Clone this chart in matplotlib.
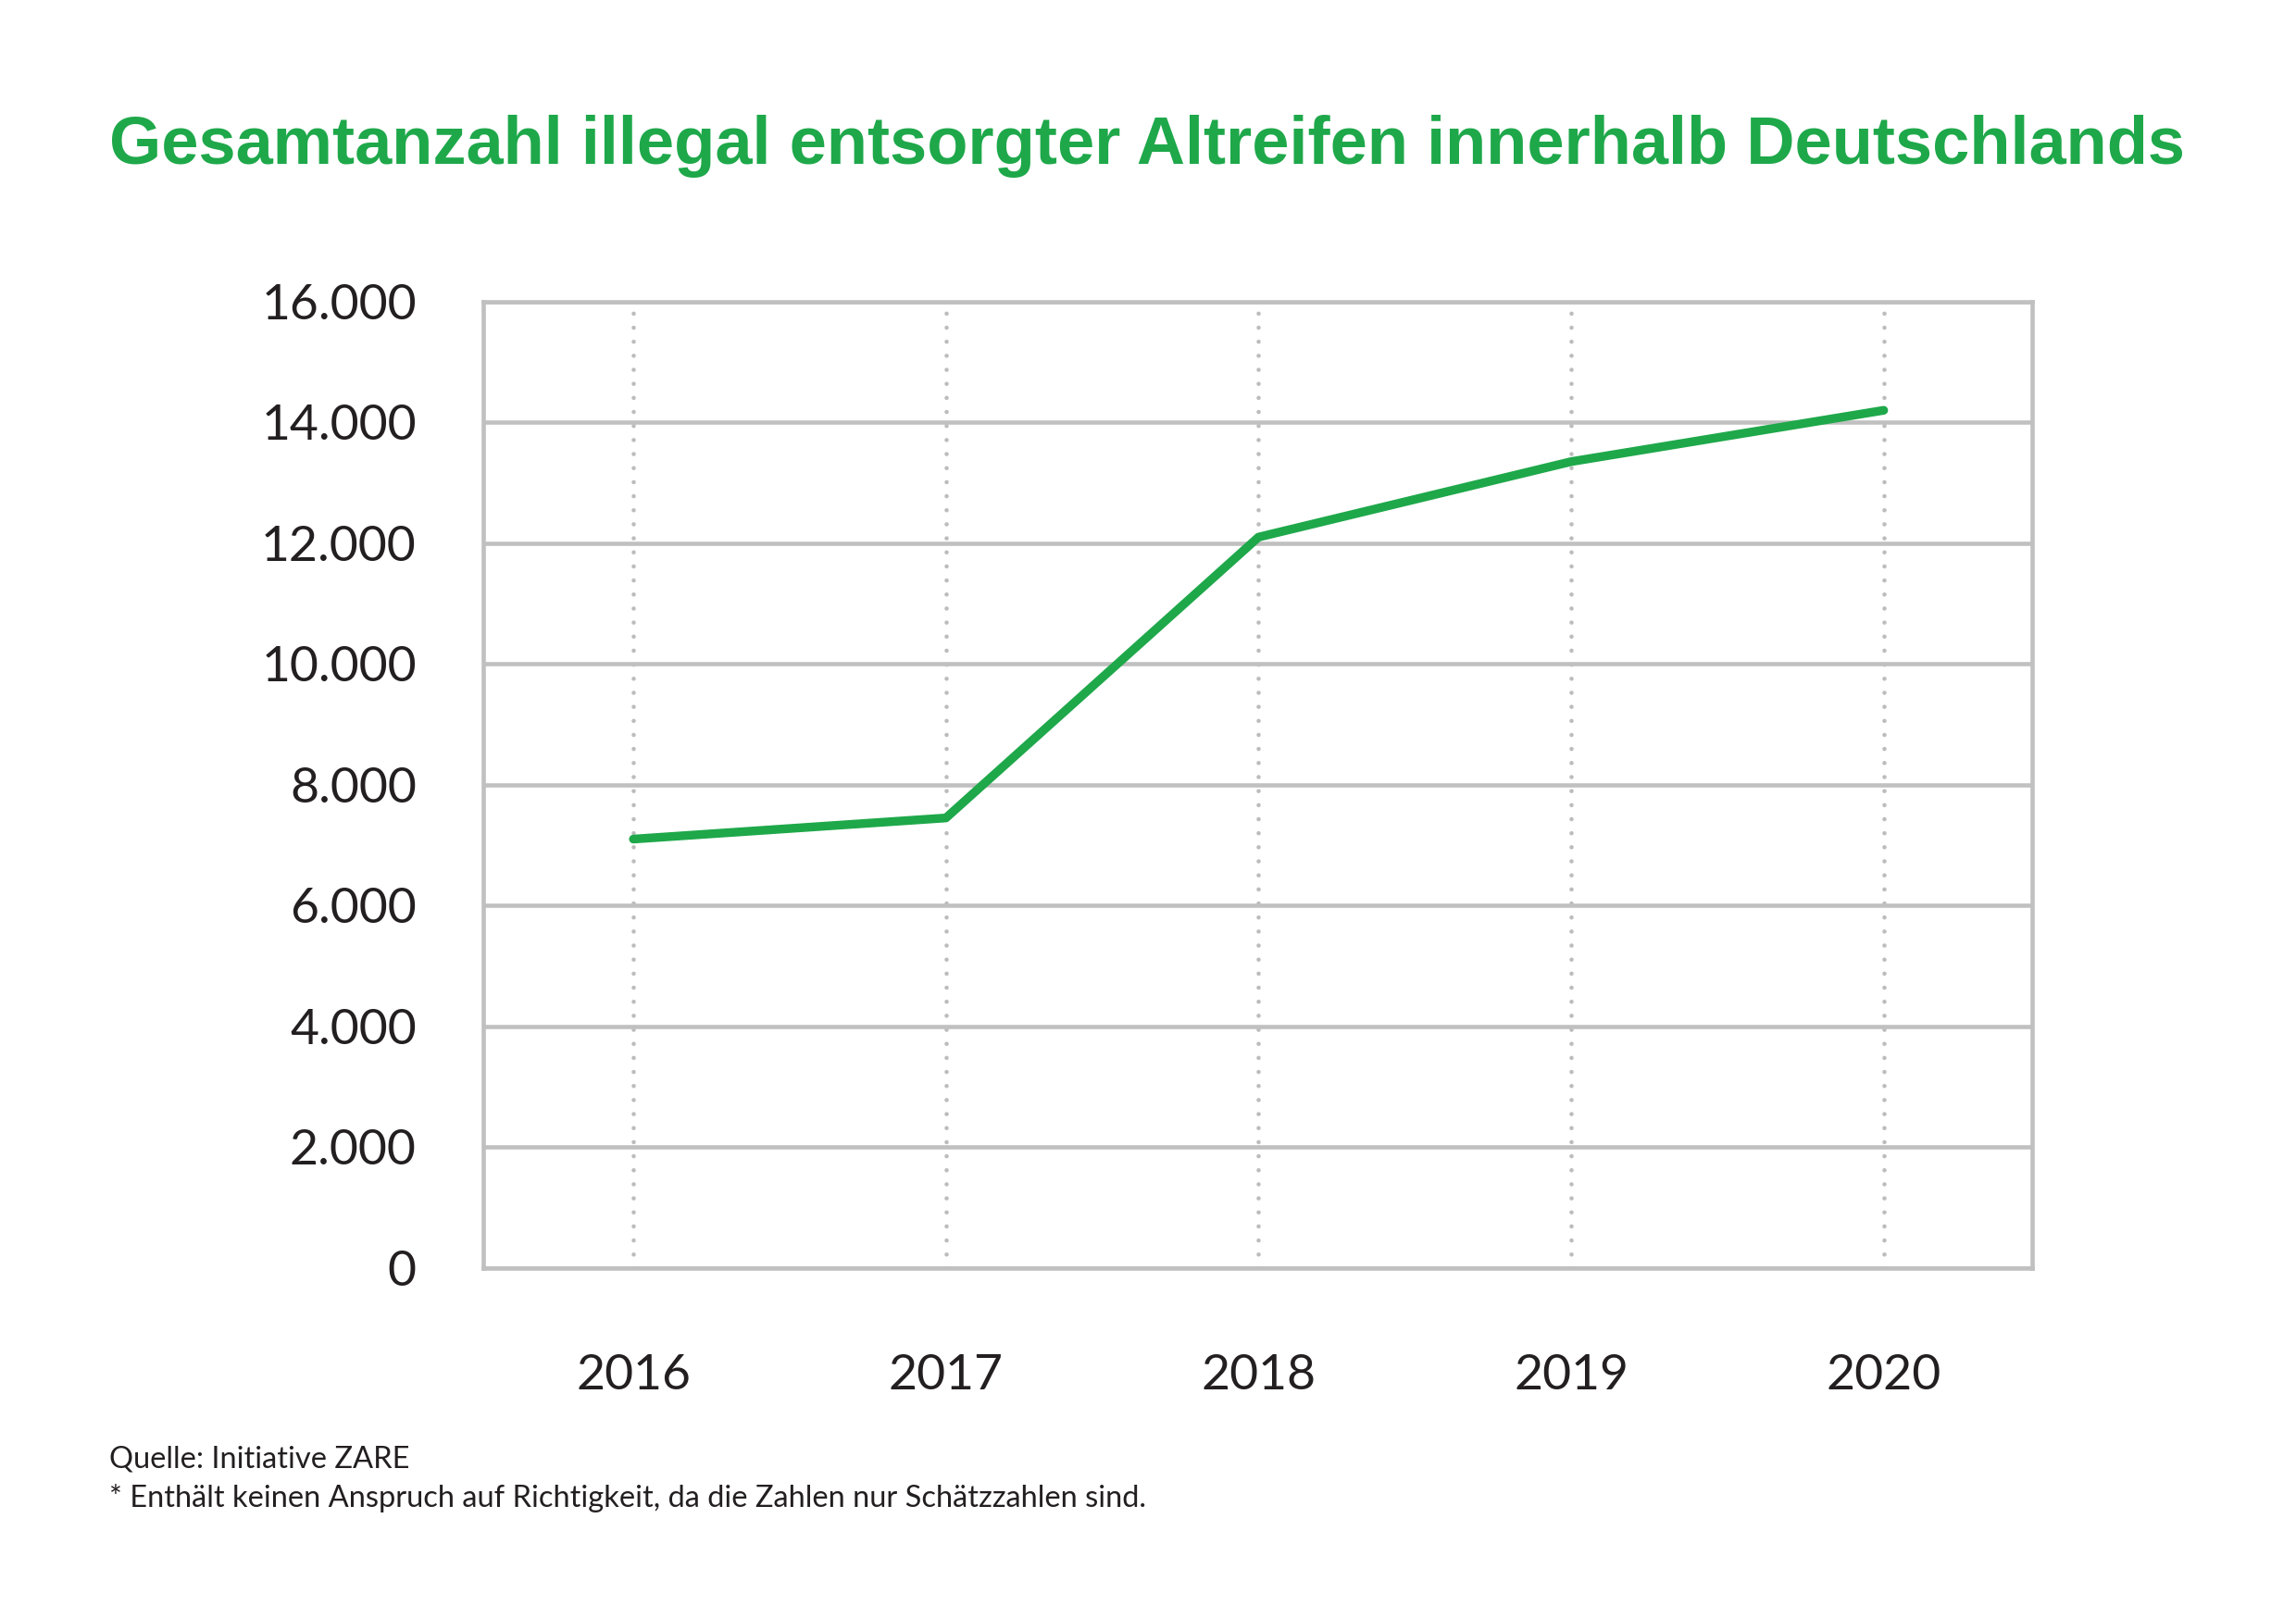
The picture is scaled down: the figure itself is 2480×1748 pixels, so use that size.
import matplotlib
matplotlib.use("Agg")
import matplotlib.pyplot as plt
from matplotlib import font_manager
from matplotlib.ticker import FixedLocator, FuncFormatter

# data
years = ["2016", "2017", "2018", "2019", "2020"]
tires = [7100, 7450, 12100, 13350, 14200]
y_ticks = [0, 2000, 4000, 6000, 8000, 10000, 12000, 14000, 16000]

title = "Gesamtanzahl illegal entsorgter Altreifen innerhalb Deutschlands"
source = "Quelle: Initiative ZARE"
note = "* Enthält keinen Anspruch auf Richtigkeit, da die Zahlen nur Schätzzahlen sind."

GREEN = "#1ea84a"
GRAY = "#c0c0c0"
DOT = "#bcbcbc"
TEXT = "#231f20"

installed = {f.name for f in font_manager.fontManager.ttflist}
title_font = "Liberation Sans Narrow" if "Liberation Sans Narrow" in installed else "Liberation Sans"
body_font = "Lato" if "Lato" in installed else "DejaVu Sans"

plt.rcParams["font.family"] = [body_font, "DejaVu Sans"]
plt.rcParams["lines.dash_capstyle"] = "round"


def fmt_de(v, pos=None):
    return "{:,.0f}".format(v).replace(",", ".")


def main():
    fig = plt.figure(figsize=(24.8, 17.48), dpi=100)
    ax = fig.add_axes([0.2105, 0.2164, 0.8851 - 0.2105, 0.8136 - 0.2164])

    x = list(range(len(years)))
    ax.plot(x, tires, color=GREEN, lw=6.8, solid_capstyle="round",
            solid_joinstyle="round", zorder=5)

    ax.set_xlim(-0.48, len(years) - 1 + 0.475)
    ax.set_ylim(0, 16000)

    ax.xaxis.set_major_locator(FixedLocator(x))
    ax.set_xticklabels(years)
    ax.yaxis.set_major_locator(FixedLocator(y_ticks))
    ax.yaxis.set_major_formatter(FuncFormatter(fmt_de))

    ax.grid(axis="y", color=GRAY, lw=3.3, linestyle="-", zorder=1)
    ax.grid(axis="x", color=DOT, lw=3.3, linestyle=(0, (0.01, 3.3)), zorder=2)
    ax.set_axisbelow(True)

    for s in ax.spines.values():
        s.set_color(GRAY)
        s.set_linewidth(3.3)

    ax.tick_params(axis="both", length=0, labelsize=38.5, colors=TEXT)
    ax.tick_params(axis="y", pad=52)
    ax.tick_params(axis="x", pad=67)

    # title, fitted to the width it spans in the reference
    t = fig.text(118 / 2480, 1 - 158 / 1748, title, family=[title_font, "DejaVu Sans"],
                 fontweight="bold", color=GREEN, fontsize=60, ha="left", va="center")
    fig.canvas.draw()
    w = t.get_window_extent().width
    t.set_fontsize(60 * 2242 / w)

    fig.text(118 / 2480, 1 - 1577 / 1748, source, fontsize=23.5, color=TEXT,
             ha="left", va="center")
    fig.text(118 / 2480, 1 - 1619 / 1748, note, fontsize=23.5, color=TEXT,
             ha="left", va="center")

    fig.savefig("out.png", dpi=100, facecolor="white")


if __name__ == '__main__':
    main()
